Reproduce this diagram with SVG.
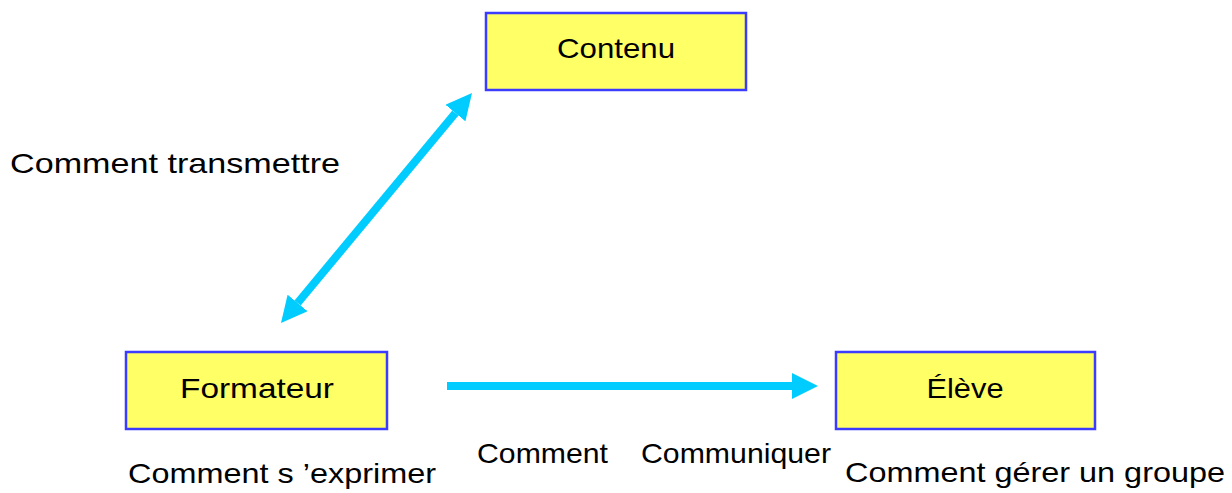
<svg xmlns="http://www.w3.org/2000/svg" width="1232" height="493" viewBox="0 0 1232 493">
<style>
.box{fill:#FFFF66;stroke:#3C3CFF;stroke-width:2.5}
.t{font-family:"Liberation Sans","DejaVu Sans",sans-serif;font-size:28px;fill:#000}
.c{text-anchor:middle}
.ln{stroke:#00CCFF;stroke-width:8;fill:none}
</style>
<defs>
<marker id="ah" markerUnits="userSpaceOnUse" markerWidth="27" markerHeight="26" refX="0" refY="13" orient="auto-start-reverse" viewBox="0 0 27 26">
<path d="M0,0 L26,13 L0,26 z" fill="#00CCFF"/>
</marker>
</defs>
<rect width="1232" height="493" fill="#fff"/>
<g id="connectors">
<line class="ln" x1="297.6" y1="303" x2="455.4" y2="113" marker-start="url(#ah)" marker-end="url(#ah)"/>
<line class="ln" x1="447" y1="386" x2="792" y2="386" marker-end="url(#ah)"/>
</g>
<g id="contenu">
<rect class="box" x="486" y="13" width="260" height="77"/>
<text class="t c" x="616" y="58" textLength="118" lengthAdjust="spacingAndGlyphs">Contenu</text>
</g>
<g id="formateur">
<rect class="box" x="126" y="352" width="261" height="77"/>
<text class="t c" x="257" y="398" textLength="154" lengthAdjust="spacingAndGlyphs">Formateur</text>
</g>
<g id="eleve">
<rect class="box" x="836" y="352" width="259" height="77"/>
<text class="t c" x="965" y="398" textLength="77" lengthAdjust="spacingAndGlyphs">Élève</text>
</g>
<g id="labels">
<text class="t" x="10" y="173" textLength="330" lengthAdjust="spacingAndGlyphs">Comment transmettre</text>
<text class="t" x="128" y="483" textLength="308" lengthAdjust="spacingAndGlyphs">Comment s ’exprimer</text>
<text class="t" x="477" y="463" textLength="131" lengthAdjust="spacingAndGlyphs">Comment</text>
<text class="t" x="641" y="463" textLength="190" lengthAdjust="spacingAndGlyphs">Communiquer</text>
<text class="t" x="845" y="482" textLength="380" lengthAdjust="spacingAndGlyphs">Comment gérer un groupe</text>
</g>
</svg>
